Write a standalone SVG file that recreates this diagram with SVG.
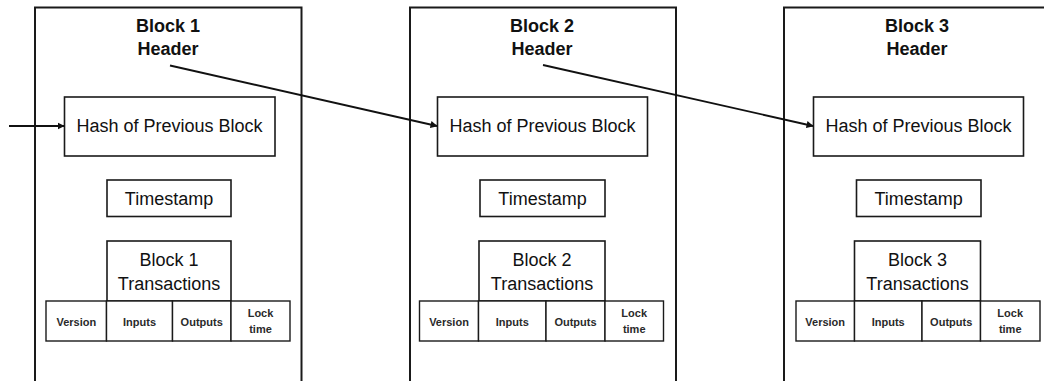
<svg xmlns="http://www.w3.org/2000/svg" width="1044" height="381" viewBox="0 0 1044 381">
  <style>
    .outer { fill: #fff; stroke: #1a1a1a; stroke-width: 2; }
    .box { fill: #fff; stroke: #1a1a1a; stroke-width: 1.6; }
    .cell { fill: #fff; stroke: #1a1a1a; stroke-width: 1.4; }
    .title { font-family: "Liberation Sans", Arial, sans-serif; font-weight: bold; font-size: 18px; fill: #111; text-anchor: middle; }
    .label { font-family: "Liberation Sans", Arial, sans-serif; font-size: 18px; fill: #111; text-anchor: middle; }
    .small { font-family: "Liberation Sans", Arial, sans-serif; font-weight: bold; font-size: 11px; fill: #2a2a2a; text-anchor: middle; }
    .link { fill: none; stroke: #111; stroke-width: 1.8; marker-end: url(#head); }
  </style>
  <defs>
    <marker id="head" viewBox="0 0 10 10" refX="9" refY="5" markerWidth="4" markerHeight="4" orient="auto" markerUnits="strokeWidth">
      <path d="M0,0 L10,5 L0,10 z" fill="#111"/>
    </marker>
  </defs>
  <rect width="1044" height="381" fill="#fff"/>

  <!-- Block 1 -->
  <g id="block1">
    <rect class="outer" x="35" y="7.5" width="266.5" height="390"/>
    <text class="title" x="168" y="32">Block 1</text>
    <text class="title" x="168" y="55">Header</text>
    <rect class="box" x="64.5" y="97" width="210.5" height="59"/>
    <text class="label" x="169.5" y="132">Hash of Previous Block</text>
    <rect class="box" x="107" y="180" width="124" height="36.5"/>
    <text class="label" x="169" y="205">Timestamp</text>
    <rect class="box" x="107" y="241" width="124" height="60"/>
    <text class="label" x="169" y="266">Block 1</text>
    <text class="label" x="169" y="290">Transactions</text>
    <rect class="cell" x="46" y="301" width="60.5" height="40"/>
    <rect class="cell" x="106.5" y="301" width="66" height="40"/>
    <rect class="cell" x="172.5" y="301" width="58.5" height="40"/>
    <rect class="cell" x="231" y="301" width="59" height="40"/>
    <text class="small" x="76.3" y="325.5">Version</text>
    <text class="small" x="139.5" y="325.5">Inputs</text>
    <text class="small" x="201.7" y="325.5">Outputs</text>
    <text class="small" x="260.5" y="317">Lock</text>
    <text class="small" x="260.5" y="333">time</text>
  </g>

  <!-- Block 2 -->
  <g id="block2">
    <rect class="outer" x="410" y="7.5" width="266" height="390"/>
    <text class="title" x="542" y="32">Block 2</text>
    <text class="title" x="542" y="55">Header</text>
    <rect class="box" x="437.5" y="97" width="210" height="59"/>
    <text class="label" x="542.5" y="132">Hash of Previous Block</text>
    <rect class="box" x="480" y="180" width="125" height="36.5"/>
    <text class="label" x="542.5" y="205">Timestamp</text>
    <rect class="box" x="479" y="241" width="126" height="60"/>
    <text class="label" x="542" y="266">Block 2</text>
    <text class="label" x="542" y="290">Transactions</text>
    <rect class="cell" x="419.5" y="301" width="59" height="40"/>
    <rect class="cell" x="478.5" y="301" width="67.5" height="40"/>
    <rect class="cell" x="546" y="301" width="59" height="40"/>
    <rect class="cell" x="605" y="301" width="58.5" height="40"/>
    <text class="small" x="449" y="325.5">Version</text>
    <text class="small" x="512.3" y="325.5">Inputs</text>
    <text class="small" x="575.5" y="325.5">Outputs</text>
    <text class="small" x="634.2" y="317">Lock</text>
    <text class="small" x="634.2" y="333">time</text>
  </g>

  <!-- Block 3 -->
  <g id="block3">
    <rect class="outer" x="784" y="7.5" width="266" height="390"/>
    <text class="title" x="917" y="32">Block 3</text>
    <text class="title" x="917" y="55">Header</text>
    <rect class="box" x="813.5" y="97" width="210" height="59"/>
    <text class="label" x="918.5" y="132">Hash of Previous Block</text>
    <rect class="box" x="856.5" y="180" width="124.5" height="36.5"/>
    <text class="label" x="918.7" y="205">Timestamp</text>
    <rect class="box" x="854.5" y="241" width="126" height="60"/>
    <text class="label" x="917.5" y="266">Block 3</text>
    <text class="label" x="917.5" y="290">Transactions</text>
    <rect class="cell" x="796" y="301" width="58.5" height="40"/>
    <rect class="cell" x="854.5" y="301" width="67.5" height="40"/>
    <rect class="cell" x="922" y="301" width="58.5" height="40"/>
    <rect class="cell" x="980.5" y="301" width="59.5" height="40"/>
    <text class="small" x="825.2" y="325.5">Version</text>
    <text class="small" x="888.2" y="325.5">Inputs</text>
    <text class="small" x="951.2" y="325.5">Outputs</text>
    <text class="small" x="1010.2" y="317">Lock</text>
    <text class="small" x="1010.2" y="333">time</text>
  </g>

  <!-- Header-to-hash links -->
  <g id="connectors">
    <line class="link" x1="9" y1="126" x2="64" y2="126"/>
    <line class="link" x1="170" y1="65.5" x2="437" y2="126"/>
    <line class="link" x1="543" y1="65" x2="813" y2="126"/>
  </g>
</svg>
